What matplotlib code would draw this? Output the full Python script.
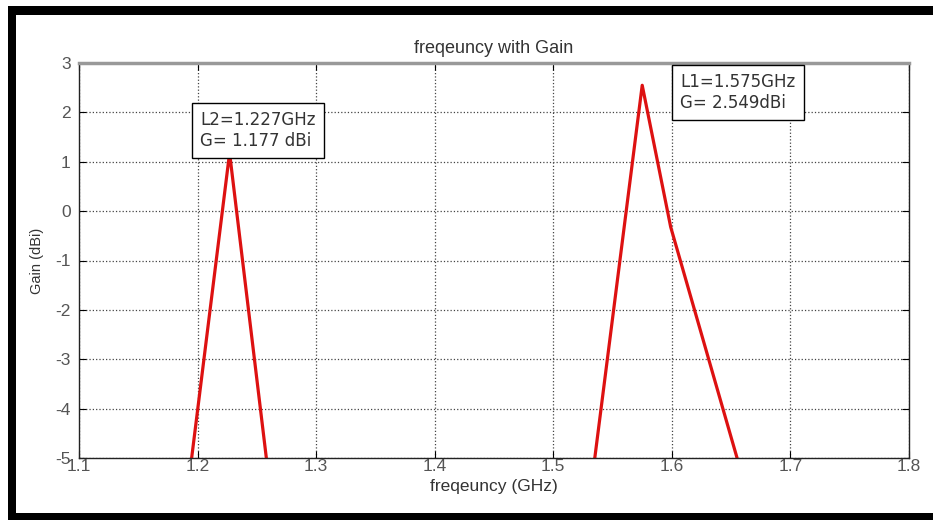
import matplotlib.pyplot as plt
from matplotlib.patches import Rectangle

plt.rcParams['font.family'] = ['Liberation Sans', 'DejaVu Sans']
plt.rcParams['axes.unicode_minus'] = False

# L2 band
l2_freq = [1.195, 1.227, 1.258]
l2_gain = [-5.0, 1.177, -5.0]

# L1 band
l1_freq = [1.535, 1.575, 1.599, 1.655]
l1_gain = [-5.0, 2.549, -0.32, -5.0]

x_ticks = [1.1, 1.2, 1.3, 1.4, 1.5, 1.6, 1.7, 1.8]
y_ticks = [-5, -4, -3, -2, -1, 0, 1, 2, 3]

fig = plt.figure(figsize=(9.33, 5.2), dpi=100)
ax = fig.add_axes([79 / 933, 62 / 520, 830 / 933, 395 / 520])

ax.plot(l2_freq, l2_gain, color='#dd1111', linewidth=2.3)
ax.plot(l1_freq, l1_gain, color='#dd1111', linewidth=2.3)

ax.set_xlim(1.1, 1.8)
ax.set_ylim(-5, 3)
ax.set_xticks(x_ticks)
ax.set_yticks(y_ticks)
ax.set_xticklabels([f'{v:g}' for v in x_ticks])
ax.grid(True, linestyle=':', color='#444444', linewidth=0.9)
ax.tick_params(direction='in', length=5, top=True, right=True, labelsize=12.5,
               labelcolor='#555555')
ax.tick_params(axis='y', pad=6)
ax.tick_params(axis='x', pad=1)
for s in ['left', 'right', 'bottom']:
    ax.spines[s].set_linewidth(1.0)
    ax.spines[s].set_color('#222222')
ax.spines['top'].set_color('#999999')
ax.spines['top'].set_linewidth(2.5)

ax.set_title('freqeuncy with Gain', fontsize=13, color='#333333', pad=7)
ax.set_xlabel('freqeuncy (GHz)', fontsize=12.5, color='#333333', labelpad=3)
ax.set_ylabel('Gain (dBi)', fontsize=10.5, color='#333333', labelpad=8)

box = dict(boxstyle='square,pad=0.5', facecolor='white', edgecolor='black', linewidth=1.0)
ax.text(1.202, 2.03, 'L2=1.227GHz\nG= 1.177 dBi', fontsize=12, color='#333333',
        family='DejaVu Sans', va='top', ha='left', bbox=box, linespacing=1.2)
ax.text(1.607, 2.80, 'L1=1.575GHz\nG= 2.549dBi', fontsize=12, color='#333333',
        family='DejaVu Sans', va='top', ha='left', bbox=box, linespacing=1.2)

# black frame around the picture
for r in [(8, 0, 8, 514), (8, 505, 925, 9), (8, 0, 925, 7)]:
    fig.add_artist(Rectangle((r[0] / 933, r[1] / 520), r[2] / 933, r[3] / 520,
                             transform=fig.transFigure, facecolor='black',
                             edgecolor='none'))

fig.savefig('out.png', dpi=100)
